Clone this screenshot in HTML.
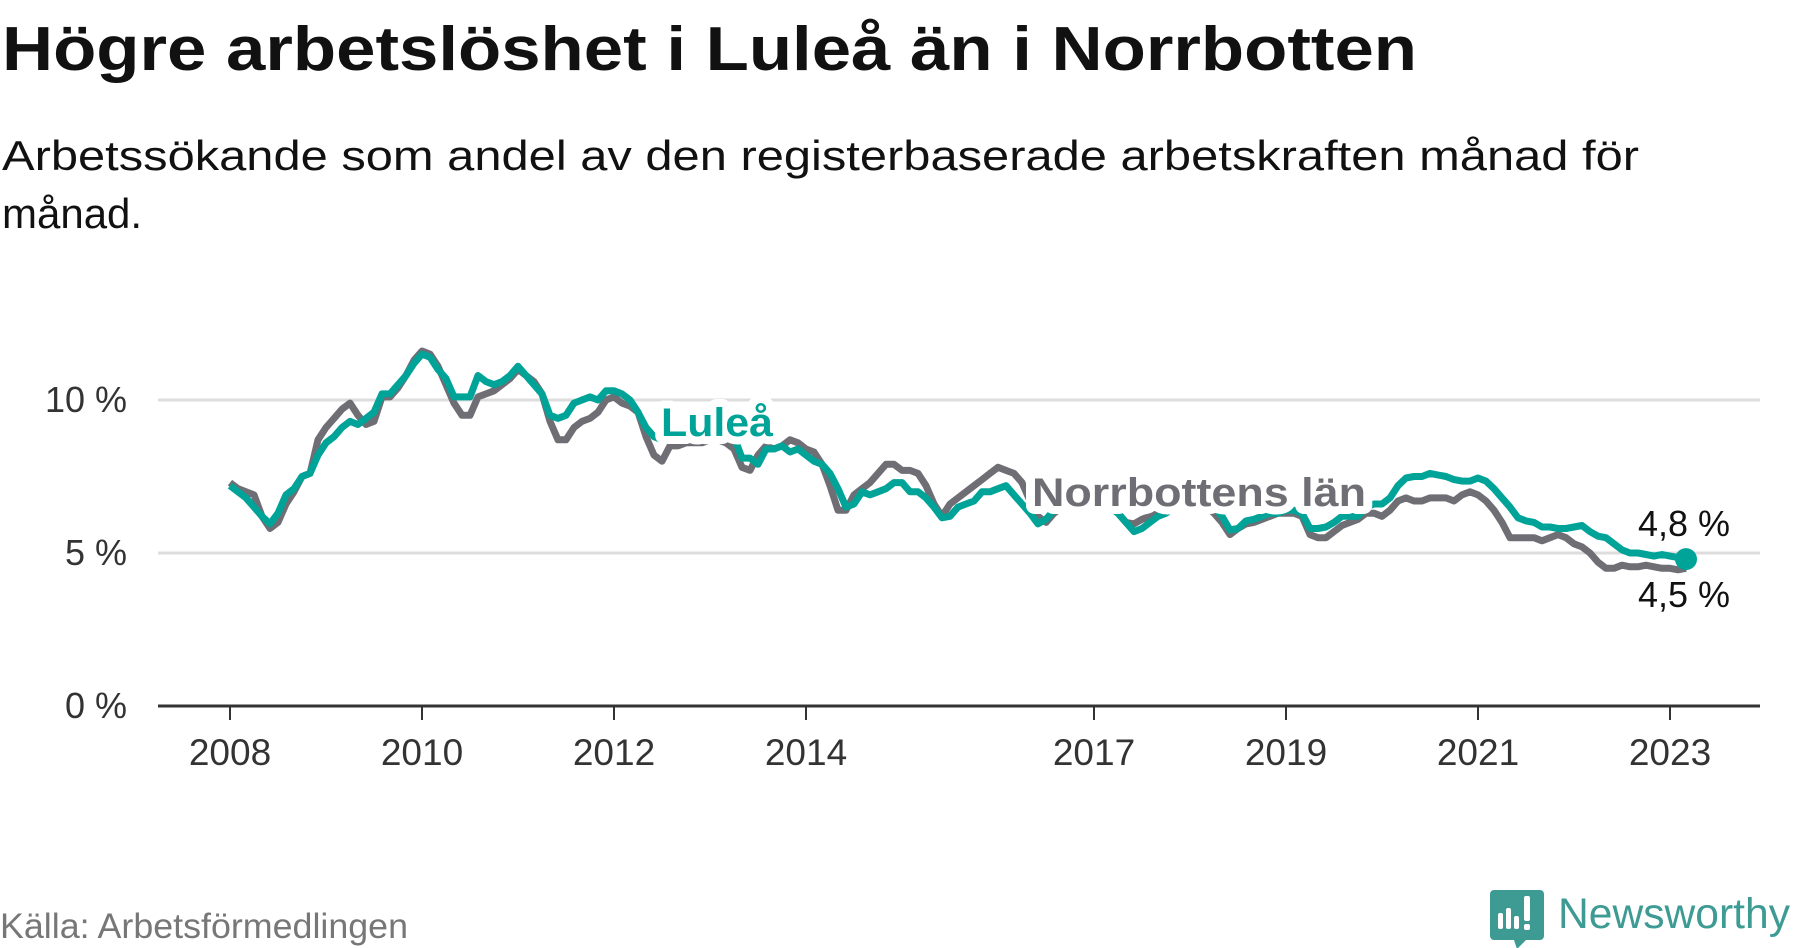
<!DOCTYPE html>
<html><head><meta charset="utf-8"><style>
body{margin:0;background:#fff;width:1800px;height:948px;overflow:hidden;font-family:"Liberation Sans",sans-serif}
svg{position:absolute;left:0;top:0}
</style></head><body>
<svg width="1800" height="948" viewBox="0 0 1800 948">
<text x="2" y="70" font-size="62" font-weight="bold" fill="#111" textLength="1415" lengthAdjust="spacingAndGlyphs">Högre arbetslöshet i Luleå än i Norrbotten</text>
<text x="2" y="170" font-size="42" fill="#111" textLength="1637" lengthAdjust="spacingAndGlyphs">Arbetssökande som andel av den registerbaserade arbetskraften månad för</text>
<text x="2" y="228" font-size="42" fill="#111">månad.</text>
<g id="grid"></g><g id="xaxis"></g><g id="lines"></g><g id="labels"></g>
<text x="0" y="938" font-size="35" fill="#777" textLength="408" lengthAdjust="spacingAndGlyphs">Källa: Arbetsförmedlingen</text>
<g>
<path d="M1494 890 h46 a4 4 0 0 1 4 4 v42 a4 4 0 0 1 -4 4 h-14 l-9 9 l-3 -9 h-20 a4 4 0 0 1 -4 -4 v-42 a4 4 0 0 1 4 -4z" fill="#3d9b94"/>
<rect x="1498" y="913" width="5" height="16" rx="2" fill="#fff"/><rect x="1506" y="908" width="5" height="21" rx="2" fill="#fff"/><rect x="1514" y="916" width="5" height="13" rx="2" fill="#fff"/><rect x="1524" y="896" width="6" height="25" rx="2" fill="#fff"/><rect x="1524" y="924" width="6" height="6" rx="2" fill="#fff"/>
<text x="1558" y="928" font-size="43" fill="#3d9b94" font-weight="500" textLength="232" lengthAdjust="spacingAndGlyphs">Newsworthy</text>
</g>
</svg>
<script>
const yTicks=[0,5,10];
const yTickLabels=["0 %","5 %","10 %"];
const xTickYears=[2008,2010,2012,2014,2017,2019,2021,2023];
const startYear=2008;
const lulea=[7.2,7.0,6.8,6.5,6.2,5.95,6.3,6.9,7.1,7.5,7.6,8.2,8.6,8.8,9.1,9.3,9.2,9.4,9.6,10.2,10.2,10.5,10.8,11.2,11.5,11.4,11.0,10.7,10.1,10.1,10.1,10.8,10.6,10.5,10.6,10.8,11.1,10.8,10.5,10.2,9.5,9.4,9.5,9.9,10.0,10.1,10.0,10.3,10.3,10.2,10.0,9.6,9.1,8.8,8.7,8.7,8.8,8.8,8.7,8.7,8.8,8.9,8.9,8.8,8.1,8.1,7.9,8.4,8.4,8.5,8.3,8.4,8.2,8.0,7.9,7.6,7.1,6.5,6.6,7.0,6.9,7.0,7.1,7.3,7.3,7.0,7.0,6.8,6.5,6.15,6.2,6.5,6.6,6.7,7.0,7.0,7.1,7.2,6.9,6.6,6.3,5.95,6.1,6.4,6.5,6.6,6.7,6.7,6.7,6.6,6.5,6.3,6.0,5.7,5.8,6.0,6.2,6.3,6.5,6.6,6.7,6.7,6.6,6.5,6.2,5.75,5.8,6.05,6.1,6.2,6.3,6.3,6.4,6.4,6.3,5.8,5.8,5.85,6.0,6.2,6.2,6.2,6.5,6.6,6.6,6.8,7.2,7.45,7.5,7.5,7.6,7.55,7.5,7.4,7.35,7.35,7.45,7.35,7.1,6.8,6.5,6.15,6.05,6.0,5.85,5.85,5.8,5.8,5.85,5.9,5.7,5.55,5.5,5.3,5.1,5.0,5.0,4.95,4.9,4.95,4.9,4.85,4.8];
const norrbotten=[7.3,7.1,7.0,6.9,6.2,5.8,6.0,6.6,7.0,7.5,7.6,8.7,9.1,9.4,9.7,9.9,9.5,9.2,9.3,10.1,10.1,10.4,10.8,11.3,11.6,11.5,11.1,10.5,9.9,9.5,9.5,10.1,10.2,10.3,10.5,10.7,11.0,10.8,10.6,10.2,9.3,8.7,8.7,9.1,9.3,9.4,9.6,10.0,10.1,9.9,9.8,9.6,8.8,8.2,8.0,8.5,8.5,8.6,8.6,8.6,8.7,8.7,8.6,8.4,7.8,7.7,8.2,8.5,8.4,8.5,8.7,8.6,8.4,8.3,7.9,7.2,6.4,6.4,6.9,7.1,7.3,7.6,7.9,7.9,7.7,7.7,7.6,7.2,6.6,6.2,6.6,6.8,7.0,7.2,7.4,7.6,7.8,7.7,7.6,7.3,6.7,6.2,6.0,6.3,6.5,6.6,6.7,6.7,6.7,6.6,6.5,6.3,6.0,5.95,6.1,6.2,6.3,6.4,6.6,6.6,6.6,6.5,6.5,6.3,6.0,5.6,5.8,5.95,6.0,6.1,6.2,6.3,6.3,6.3,6.2,5.6,5.5,5.5,5.7,5.9,6.0,6.1,6.3,6.3,6.2,6.4,6.7,6.8,6.7,6.7,6.8,6.8,6.8,6.7,6.9,7.0,6.9,6.7,6.4,6.0,5.5,5.5,5.5,5.5,5.4,5.5,5.6,5.5,5.3,5.2,5.0,4.7,4.5,4.5,4.6,4.55,4.55,4.6,4.55,4.5,4.5,4.45,4.5];
const NS='http://www.w3.org/2000/svg';
const X0=230,PXM=8,Y0=706,PXV=30.6;
function xs(m){return X0+m*PXM;}
function ys(v){return Y0-v*PXV;}
function mk(tag,attrs,parent){const e=document.createElementNS(NS,tag);for(const k in attrs)e.setAttribute(k,attrs[k]);parent.appendChild(e);return e;}
const grid=document.getElementById('grid'),xa=document.getElementById('xaxis'),lines=document.getElementById('lines'),labels=document.getElementById('labels');
yTicks.forEach((t,i)=>{
  const l=mk('line',{x1:158,x2:1760,y1:ys(t),y2:ys(t),stroke:t===0?'#333':'#dddddd','stroke-width':3},grid);
  
  
  const tx=mk('text',{x:127,y:ys(t)+12,'text-anchor':'end','font-size':36,fill:'#333'},grid);
  tx.textContent=yTickLabels[i];
  
  
});
xTickYears.forEach(yr=>{
  const x=xs((yr-startYear)*12);
  const t=mk('line',{x1:x,x2:x,y1:Y0,y2:720,stroke:'#333','stroke-width':2},xa);
  
  
  const tx=mk('text',{x:x,y:765,'text-anchor':'middle','font-size':37,fill:'#333'},xa);
  tx.textContent=yr;
  
  
});
function path(arr){return arr.map((v,i)=>(i?'L':'M')+xs(i).toFixed(1)+' '+ys(v).toFixed(1)).join(' ');}
const pn=mk('path',{d:path(norrbotten),fill:'none',stroke:'#6f6e74','stroke-width':7,'stroke-linejoin':'round'},lines);


const pl=mk('path',{d:path(lulea),fill:'none',stroke:'#00a398','stroke-width':7,'stroke-linejoin':'round'},lines);


const last=lulea.length-1;
const dot=mk('circle',{cx:xs(last),cy:ys(lulea[last]),r:11,fill:'#00a398'},lines);


function lab(txt,x,y,size,fill,weight,anchor,name,len,halo){
  const t=mk('text',{x:x,y:y,'font-size':size,fill:fill,'font-weight':weight,'text-anchor':anchor,stroke:'#fff','stroke-width':halo,'paint-order':'stroke','stroke-linejoin':'round'},labels);
  if(len){t.setAttribute('textLength',len);t.setAttribute('lengthAdjust','spacingAndGlyphs');}
  t.textContent=txt;
  
  
  return t;
}
lab('Luleå',661,436,40,'#00a398','bold','start','lulea-label',112,16);
lab('Norrbottens län',1032,506,40,'#6f6e74','bold','start','norrbotten-label',334,16);
lab(String(lulea[last]).replace('.',',')+' %',1684,536,36,'#111','normal','middle','lulea-end-value',0,8);
lab(String(norrbotten[last]).replace('.',',')+' %',1684,607,36,'#111','normal','middle','norrbotten-end-value',0,8);
</script>
</body></html>
